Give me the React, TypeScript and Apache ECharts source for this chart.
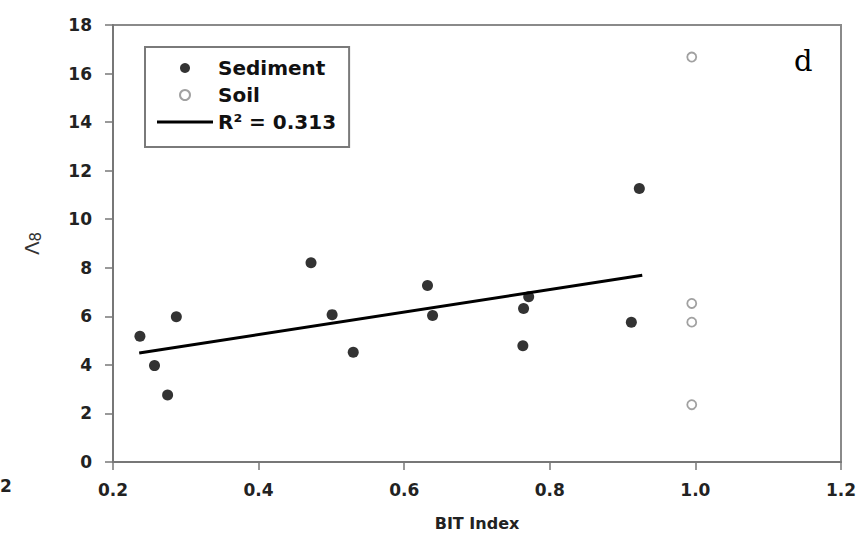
import React, { useEffect, useRef } from "react";
import * as echarts from "echarts";

const sedimentX = [0.237, 0.257, 0.275, 0.287, 0.472, 0.501, 0.53, 0.632, 0.639, 0.764, 0.771, 0.763, 0.912, 0.923];
const sedimentY = [5.18, 3.97, 2.76, 5.98, 8.21, 6.07, 4.52, 7.27, 6.03, 6.32, 6.81, 4.79, 5.76, 11.27];
const soilX = [0.995, 0.995, 0.995, 0.995];
const soilY = [16.68, 6.53, 5.76, 2.36];
const fitX = [0.236, 0.927];
const fitY = [4.49, 7.69];
const xTicks = { min: 0.2, max: 1.2, interval: 0.2 };
const yTicks = { min: 0, max: 18, interval: 2 };
const legendNames = ["Sediment", "Soil", "R\u00B2 = 0.313"];

const FONT = "DejaVu Sans";

export default function App() {
  const ref = useRef<HTMLDivElement>(null);
  useEffect(() => {
    if (!ref.current) return;
    const chart = echarts.init(ref.current, undefined, { renderer: "svg" });
    const zip = (xs: number[], ys: number[]) => xs.map((x, i) => [x, ys[i]]);
    chart.setOption({
      animation: false,
      backgroundColor: "#ffffff",
      grid: {
        left: 113,
        right: 24,
        top: 25,
        bottom: 82,
        show: true,
        borderColor: "#8a8a8a",
        borderWidth: 2,
      },
      legend: {
        orient: "vertical",
        left: 145,
        top: 47,
        padding: [11, 13, 15, 12],
        itemWidth: 56,
        itemHeight: 10,
        itemGap: 7,
        itemTextGap: 24,
        symbolKeepAspect: true,
        borderColor: "#7a7a7a",
        borderWidth: 2,
        data: [
          { name: legendNames[0] },
          { name: legendNames[1] },
          {
            name: legendNames[2],
            icon: "path://M0,0H56V3.2H0Z",
            itemStyle: { color: "#000", borderWidth: 0 },
          },
        ],
        textStyle: { fontFamily: FONT, fontWeight: "bold", fontSize: 20, color: "#111" },
      },
      xAxis: {
        type: "value",
        min: xTicks.min,
        max: xTicks.max,
        interval: xTicks.interval,
        name: "BIT Index",
        nameLocation: "middle",
        nameGap: 53,
        nameTextStyle: { fontFamily: FONT, fontWeight: "bold", fontSize: 16, color: "#222" },
        axisLine: { lineStyle: { color: "#777", width: 2 } },
        axisTick: { length: 8, lineStyle: { color: "#777", width: 1.5 } },
        axisLabel: {
          margin: 19,
          fontFamily: FONT,
          fontWeight: "bold",
          fontSize: 17,
          color: "#222",
          formatter: (v: number) => v.toFixed(1),
        },
        splitLine: { show: false },
      },
      yAxis: {
        type: "value",
        min: yTicks.min,
        max: yTicks.max,
        interval: yTicks.interval,
        name: "{l|\u039B}{s|8}",
        nameLocation: "middle",
        nameGap: 70,
        nameTextStyle: {
          color: "#333",
          rich: {
            l: { fontFamily: FONT, fontSize: 20, color: "#333" },
            s: { fontFamily: FONT, fontSize: 15, color: "#333", padding: [8, 0, 0, 0] },
          },
        },
        axisLine: { lineStyle: { color: "#777", width: 2 } },
        axisTick: { length: 8, lineStyle: { color: "#777", width: 1.5 } },
        axisLabel: {
          margin: 21,
          fontFamily: FONT,
          fontWeight: "bold",
          fontSize: 17,
          color: "#222",
        },
        splitLine: { show: false },
      },
      series: [
        {
          name: legendNames[0],
          type: "scatter",
          symbol: "circle",
          symbolSize: 11,
          itemStyle: { color: "#000" },
          data: zip(sedimentX, sedimentY),
          z: 3,
        },
        {
          name: legendNames[1],
          type: "scatter",
          symbol: "circle",
          symbolSize: 9,
          itemStyle: { color: "#fff", borderColor: "#8a8a8a", borderWidth: 1.8 },
          data: zip(soilX, soilY),
          z: 3,
        },
        {
          name: legendNames[2],
          type: "line",
          symbol: "none",
          showSymbol: false,
          lineStyle: { color: "#000", width: 3 },
          itemStyle: { color: "#000" },
          data: zip(fitX, fitY),
          z: 2,
        },
      ],
      graphic: [
        {
          type: "text",
          left: 794,
          top: 46,
          style: { text: "d", fontFamily: "DejaVu Serif", fontSize: 29, fill: "#000" },
        },
        {
          type: "text",
          left: 0,
          top: 477,
          style: { text: "2", fontFamily: FONT, fontWeight: "bold", fontSize: 17, fill: "#222" },
        },
      ],
    });
    return () => chart.dispose();
  }, []);
  return (
    <div
      ref={ref}
      style={{ position: "fixed", left: 0, top: 0, width: 865, height: 544 }}
    />
  );
}
